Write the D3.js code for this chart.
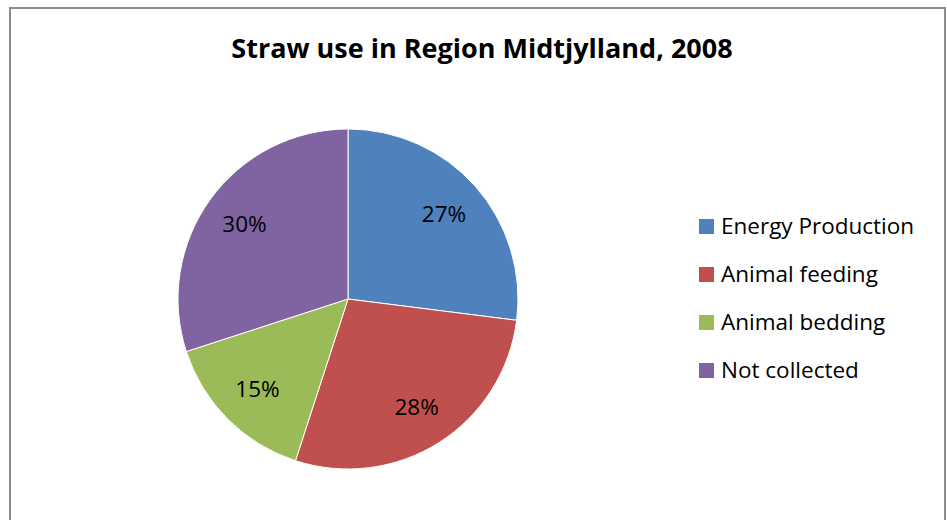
<!DOCTYPE html>
<html><head><meta charset="utf-8">
<script src="https://cdn.jsdelivr.net/npm/d3@7"></script>
<style>html,body{margin:0;padding:0;background:#fff;}</style>
</head><body>
<svg id="c" width="947" height="520"></svg>
<script>
const title = "Straw use in Region Midtjylland, 2008";
const categories = ["Energy Production", "Animal feeding", "Animal bedding", "Not collected"];
const values = [27, 28, 15, 30];
const colors = ["#4F81BD", "#C0504D", "#9BBB59", "#8064A2"];

const svg = d3.select("#c");
const font = "'Open Sans', sans-serif";

svg.append("rect").attr("x", 10).attr("y", 8).attr("width", 935).attr("height", 530)
  .attr("fill", "#fff").attr("stroke", "#8c8c8c").attr("stroke-width", 2);

svg.append("text").attr("x", 482).attr("y", 58).attr("text-anchor", "middle")
  .attr("font-family", font).attr("font-weight", "bold").attr("font-size", 27)
  .attr("fill", "#000").text(title);

const cx = 348, cy = 299, r = 170;
const pie = d3.pie().sort(null).value(d => d)(values);
const arc = d3.arc().innerRadius(0).outerRadius(r);
const labelArc = d3.arc().innerRadius(128).outerRadius(128);
const g = svg.append("g").attr("transform", `translate(${cx},${cy})`);
g.selectAll("path").data(pie).join("path")
  .attr("d", arc).attr("fill", (d, i) => colors[i])
  .attr("stroke", "#fff").attr("stroke-width", 1);
const total = d3.sum(values);
g.selectAll("text").data(pie).join("text")
  .attr("transform", d => `translate(${labelArc.centroid(d)})`)
  .attr("text-anchor", "middle").attr("dy", "0.35em")
  .attr("font-family", font).attr("font-size", 22.5).attr("fill", "#000")
  .text(d => Math.round(d.data / total * 100) + "%");

const lg = svg.append("g");
const rows = lg.selectAll("g").data(categories).join("g")
  .attr("transform", (d, i) => `translate(699,${219 + i * 48})`);
rows.append("rect").attr("width", 15).attr("height", 15).attr("fill", (d, i) => colors[i]);
rows.append("text").attr("x", 22).attr("y", 7.5).attr("dy", "0.35em")
  .attr("font-family", font).attr("font-size", 22.5).attr("fill", "#000").text(d => d);
</script>
</body></html>
